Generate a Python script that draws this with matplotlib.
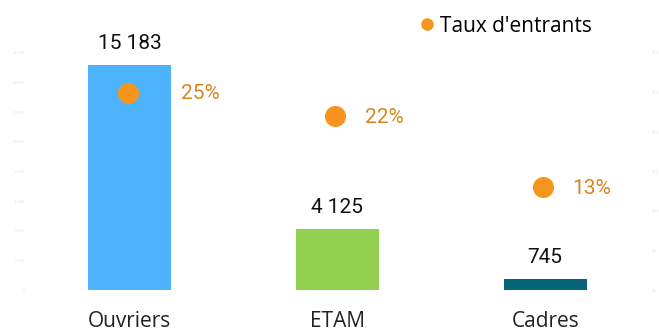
import matplotlib.pyplot as plt
from matplotlib.lines import Line2D

# Effectifs and taux d'entrants par catégorie
categories = ["Ouvriers", "ETAM", "Cadres"]
effectifs = [15183, 4125, 745]
taux_entrants = [25, 22, 13]
bar_colors = ["#4EB3FD", "#92D050", "#05667A"]

dot_color = "#F7941E"
pct_color = "#D9851F"
faint = "#EAEAEA"
# horizontal offset (points) of each percentage label from its dot
pct_offsets = [38, 21, 21]

fig = plt.figure(figsize=(6.59, 3.29), dpi=100)
ax = fig.add_axes([26 / 659, 1 - 290 / 329, 623 / 659, 237 / 329])
ax2 = ax.twinx()

x = list(range(len(categories)))
ax.bar(x, effectifs, width=0.4, color=bar_colors, zorder=2)
ax.set_xlim(-0.5, 2.5)
ax.set_ylim(0, 16000)
ax.set_yticks(range(0, 16001, 2000))
ax.set_yticklabels([f"{v:,}".replace(",", " ") for v in range(0, 16001, 2000)],
                   fontsize=2.2, color=faint, fontweight="bold")
ax.set_xticks(x)
ax.set_xticklabels(categories, fontsize=15, family="Open Sans", color="#222222")
ax.tick_params(axis="x", length=0, pad=15)
ax.tick_params(axis="y", length=0, pad=1)

for xi, v in zip(x, effectifs):
    ax.annotate(f"{v:,}".replace(",", " "), (xi, v), xytext=(0, 11.5),
                textcoords="offset points", ha="center", va="baseline",
                fontsize=15, family="Roboto", color="#111111")

dot_x = [xi - 0.01 for xi in x]
ax2.scatter(dot_x, taux_entrants, s=230, color=dot_color, zorder=3, linewidths=0)
ax2.set_ylim(0, 29.4)
ax2.set_yticks(range(0, 31, 5))
ax2.set_yticklabels([f"{v}%" for v in range(0, 31, 5)], fontsize=2.2,
                    color=faint, fontweight="bold")
ax2.tick_params(axis="y", length=0, pad=2)
for xi, t, off in zip(dot_x, taux_entrants, pct_offsets):
    ax2.annotate(f"{t}%", (xi, t), xytext=(off, -1), textcoords="offset points",
                 ha="left", va="center", fontsize=15, family="Roboto",
                 color=pct_color)

for a in (ax, ax2):
    for s in a.spines.values():
        s.set_visible(False)

handle = Line2D([], [], marker="o", linestyle="none", markersize=9,
                color=dot_color, markeredgewidth=0)
fig.legend([handle], ["Taux d'entrants"], loc="center left",
           bbox_to_anchor=(408 / 659, 1 - 26 / 329), frameon=False,
           handlelength=0.8, handletextpad=0.25, borderpad=0,
           prop={"family": "Open Sans", "size": 15})

fig.savefig("out.png", dpi=100)
